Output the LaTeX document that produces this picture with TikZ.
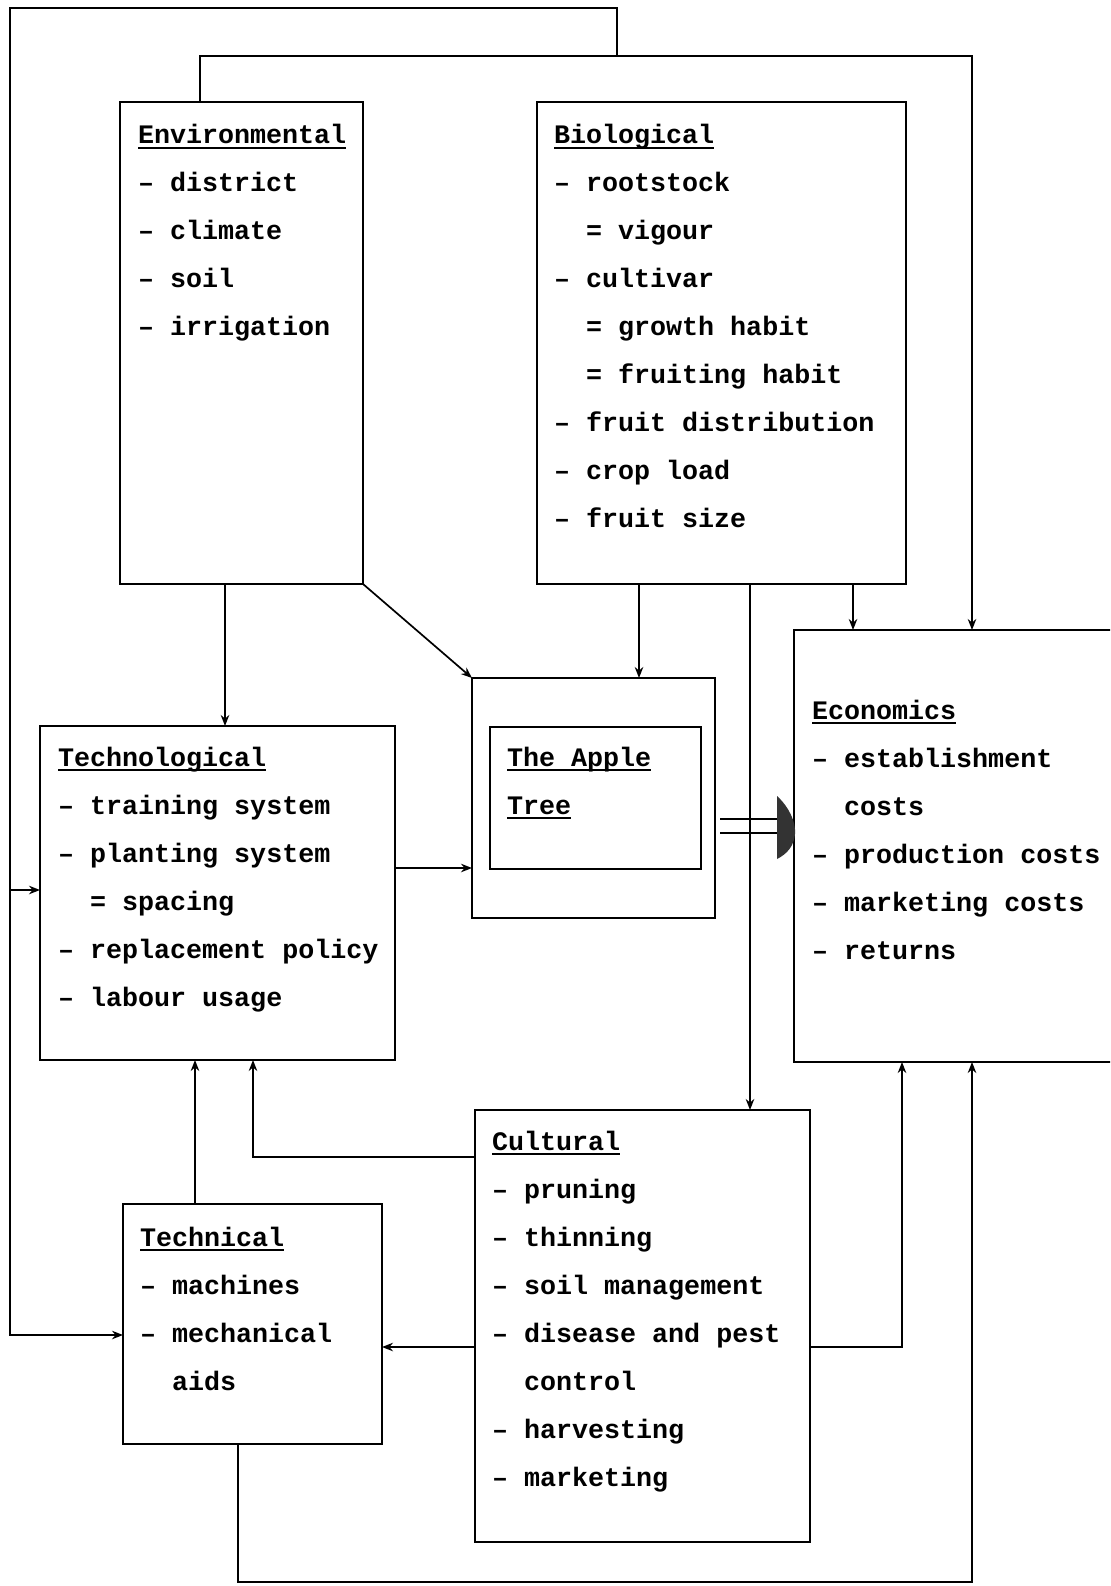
\documentclass[tikz,border=0pt]{standalone}
\usepackage{fontspec}
\newfontfamily\cour{Liberation Mono}
\usetikzlibrary{arrows.meta}
\newcommand\uln[1]{\setbox0=\hbox{#1}\rlap{\rule[-5pt]{\wd0}{1.8pt}}\box0}
\newcommand\blk[1]{\vtop{\baselineskip=48pt\lineskiplimit=-100pt\lineskip=0pt\relax #1}}
\newcommand\ind{\hspace*{1.2em}}
\newcommand\dsh{\textendash}
\tikzset{
  box/.style={draw, line width=1.9pt, inner sep=0pt, outer sep=0pt},
  link/.style={line width=1.7pt},
  arr/.style={link, -{Stealth[length=11pt,width=8.5pt]}},
  txt/.style={anchor=base west, inner sep=0pt, outer sep=0pt,
    font=\cour\bfseries\fontsize{26.7}{48}\selectfont},
}
\begin{document}
\begin{tikzpicture}[x=1pt,y=-1pt]
\useasboundingbox (0,0) rectangle (1110,1586);
\fill[white] (0,0) rectangle (1110,1586);
\clip (0,0) rectangle (1110,1586);

% boxes
\node[box, minimum width=243pt, minimum height=482pt] (env) at (241.5,343) {};
\node[box, minimum width=369pt, minimum height=482pt] (bio) at (721.5,343) {};
\node[box, minimum width=331pt, minimum height=432pt] (econ) at (959.5,846) {};
\node[box, minimum width=243pt, minimum height=240pt] (appleO) at (593.5,798) {};
\node[box, minimum width=211pt, minimum height=142pt] (appleI) at (595.5,798) {};
\node[box, minimum width=355pt, minimum height=334pt] (techno) at (217.5,893) {};
\node[box, minimum width=335pt, minimum height=432pt] (cult) at (642.5,1326) {};
\node[box, minimum width=259pt, minimum height=240pt] (techn) at (252.5,1324) {};

% texts
\node[txt] (envT) at (138,144) {\blk{%
  \hbox{\uln{Environmental}}
  \hbox{\dsh{} district}
  \hbox{\dsh{} climate}
  \hbox{\dsh{} soil}
  \hbox{\dsh{} irrigation}}};
\node[txt] (bioT) at (554,144) {\blk{%
  \hbox{\uln{Biological}}
  \hbox{\dsh{} rootstock}
  \hbox{\ind= vigour}
  \hbox{\dsh{} cultivar}
  \hbox{\ind= growth habit}
  \hbox{\ind= fruiting habit}
  \hbox{\dsh{} fruit distribution}
  \hbox{\dsh{} crop load}
  \hbox{\dsh{} fruit size}}};
\node[txt] (technoT) at (58,766) {\blk{%
  \hbox{\uln{Technological}}
  \hbox{\dsh{} training system}
  \hbox{\dsh{} planting system}
  \hbox{\ind= spacing}
  \hbox{\dsh{} replacement policy}
  \hbox{\dsh{} labour usage}}};
\node[txt] (appleT) at (507,766) {\blk{%
  \hbox{\uln{The Apple}}
  \hbox{\uln{Tree}}}};
\node[txt] (econT) at (812,719) {\blk{%
  \hbox{\uln{Economics}}
  \hbox{\dsh{} establishment}
  \hbox{\ind costs}
  \hbox{\dsh{} production costs}
  \hbox{\dsh{} marketing costs}
  \hbox{\dsh{} returns}}};
\node[txt] (cultT) at (492,1150) {\blk{%
  \hbox{\uln{Cultural}}
  \hbox{\dsh{} pruning}
  \hbox{\dsh{} thinning}
  \hbox{\dsh{} soil management}
  \hbox{\dsh{} disease and pest}
  \hbox{\ind control}
  \hbox{\dsh{} harvesting}
  \hbox{\dsh{} marketing}}};
\node[txt] (technT) at (140,1246) {\blk{%
  \hbox{\uln{Technical}}
  \hbox{\dsh{} machines}
  \hbox{\dsh{} mechanical}
  \hbox{\ind aids}}};

% routing coordinates
\coordinate (c1) at (200,56);
\coordinate (c2) at (972,56);
\coordinate (t1) at (10,8);
\coordinate (t2) at (617,8);
\coordinate (b1) at (10,890);
\coordinate (b2) at (10,1335);
\coordinate (x225) at (225,0);
\coordinate (x639) at (639,0);
\coordinate (x750) at (750,0);
\coordinate (x853) at (853,0);
\coordinate (x195) at (195,0);
\coordinate (x253) at (253,0);
\coordinate (x902) at (902,0);
\coordinate (x238) at (238,0);
\coordinate (y868) at (0,868);
\coordinate (y1157) at (0,1157);
\coordinate (y1347) at (0,1347);
\coordinate (y1582) at (0,1582);
\coordinate (y819) at (0,819);
\coordinate (y833) at (0,833);
\coordinate (hd) at (779,0);

% top buses
\draw[arr] (env.north -| c1) -- (c1) -- (c2) -- (c2 |- econ.north);
\draw[arr] (t2 |- c1) -- (t2) -- (t1) -- (b2) -- (b2 -| techn.west);
\draw[arr] (b1) -- (b1 -| techno.west);

% downward arrows
\draw[arr] (env.south -| x225) -- (techno.north -| x225);
\draw[arr] (env.south east) -- (appleO.north west);
\draw[arr] (bio.south -| x639) -- (appleO.north -| x639);
\draw[arr] (bio.south -| x750) -- (cult.north -| x750);
\draw[arr] (bio.south -| x853) -- (econ.north -| x853);

% horizontal
\draw[arr] (techno.east |- y868) -- (appleO.west |- y868);

% apple tree to economics (double line with broad head)
\draw[link] ([xshift=5pt]appleO.east |- y819) -- (hd |- y819);
\draw[link] ([xshift=5pt]appleO.east |- y833) -- (hd |- y833);
\fill[black!80] (777,796) .. controls (789,807) and (796,822) .. (795,834)
  .. controls (794,846) and (787,854) .. (777,859) -- cycle;

% lower arrows
\draw[arr] (techn.north -| x195) -- (techno.south -| x195);
\draw[arr] (cult.west |- y1157) -- (x253 |- y1157) -- (techno.south -| x253);
\draw[arr] (cult.west |- y1347) -- (techn.east |- y1347);
\draw[arr] (cult.east |- y1347) -- (x902 |- y1347) -- (econ.south -| x902);
\draw[arr] (techn.south -| x238) -- (x238 |- y1582) -- (c2 |- y1582) -- (econ.south -| c2);
\end{tikzpicture}
\end{document}
